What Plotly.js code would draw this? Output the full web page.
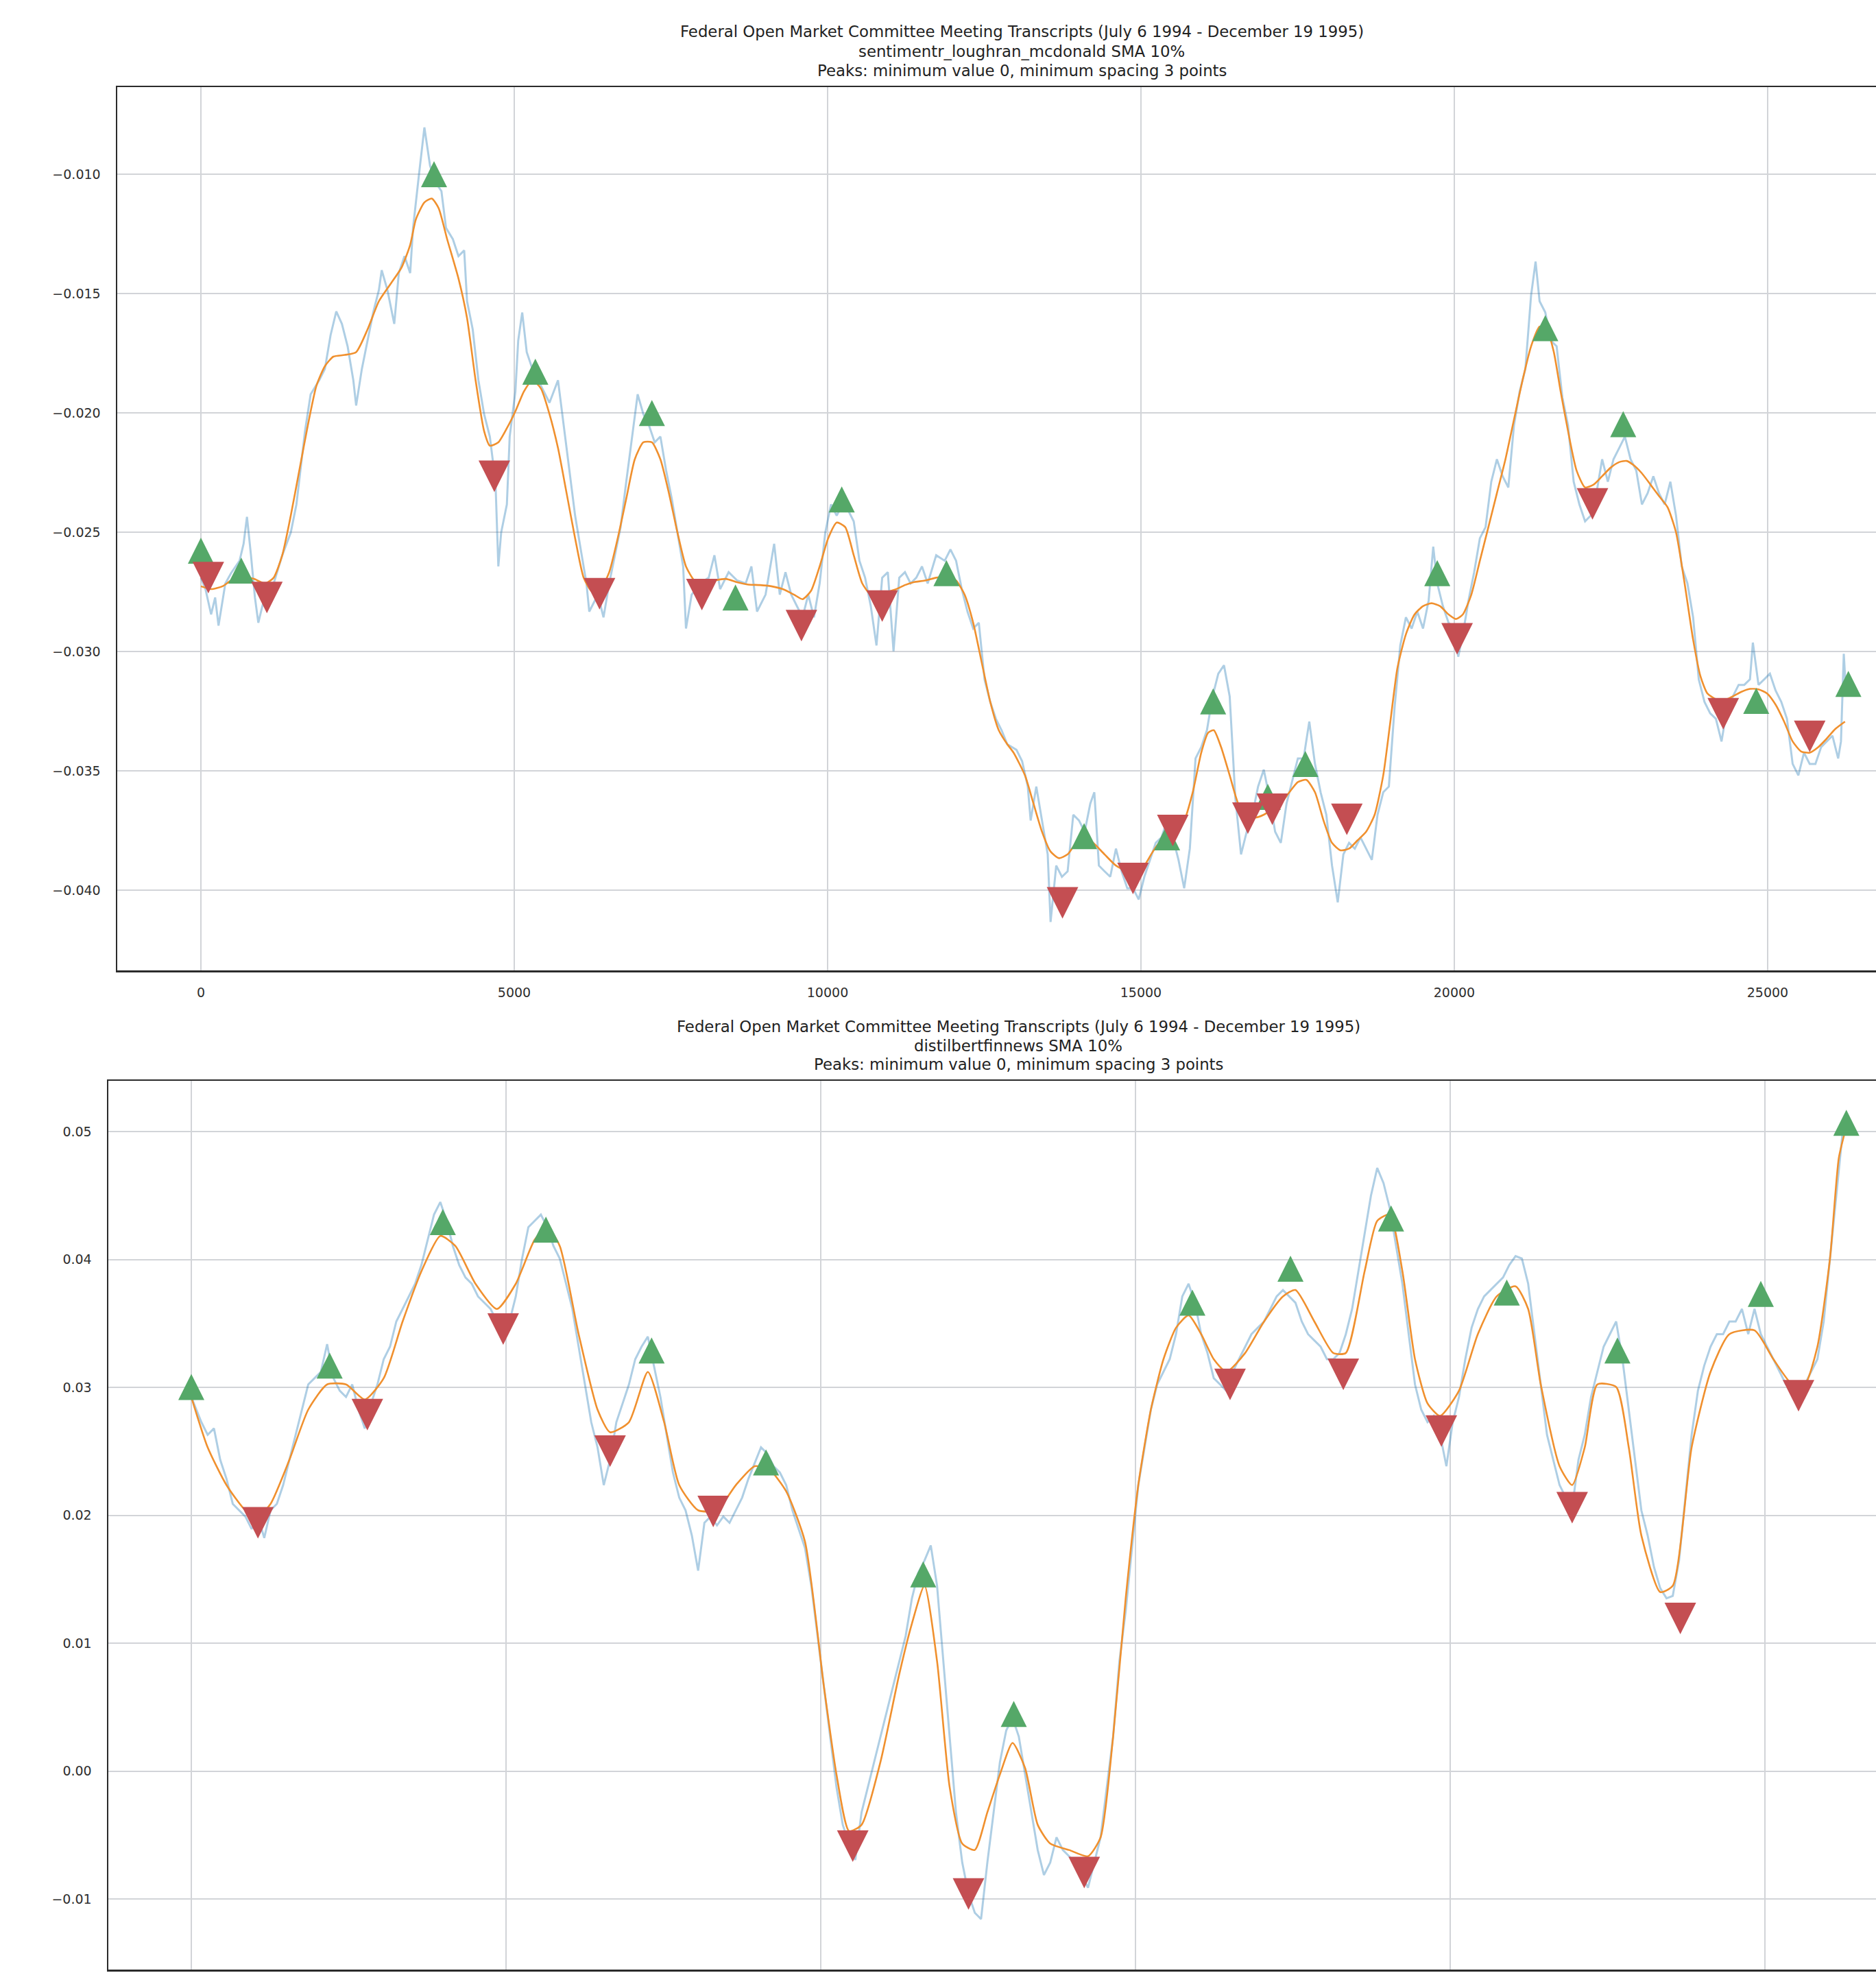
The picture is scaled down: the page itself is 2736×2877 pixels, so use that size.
<!DOCTYPE html>
<html>
<head>
<meta charset="utf-8">
<script src="https://cdn.plot.ly/plotly-3.0.1.min.js"></script>
<style>html,body{margin:0;padding:0;background:#fff;}#chart{width:2736px;height:2877px;}</style>
</head>
<body>
<div id="chart"></div>
<script>
// ---------------- DATA: top chart (sentimentr_loughran_mcdonald) ----------------
const topRawX = [0,73,163,227,281,390,481,617,681,735,799,862,916,1025,1161,1298,1434,1524,1661,1751,1887,1978,2069,2160,2250,2341,2432,2477,2568,2659,2749,2840,2885,2976,3085,3158,3249,3339,3385,3475,3566,3657,3748,3838,3911,4020,4110,4201,4247,4337,4428,4519,4610,4700,4746,4791,4882,4927,5018,5063,5127,5199,5290,5381,5472,5562,5698,5789,5880,5971,6061,6152,6197,6334,6424,6515,6606,6697,6787,6878,6969,7060,7150,7241,7332,7423,7513,7604,7695,7740,7831,7967,8103,8194,8285,8421,8557,8693,8784,8874,9010,9147,9237,9328,9419,9510,9600,9691,9782,9873,9963,10054,10145,10236,10326,10417,10508,10598,10689,10780,10871,10961,11052,11143,11234,11324,11415,11506,11597,11733,11869,11960,12050,12141,12232,12323,12413,12504,12595,12685,12776,12867,13013,13104,13194,13240,13330,13421,13512,13558,13648,13739,13830,13920,14011,14102,14192,14256,14329,14419,14510,14601,14691,14782,14873,14964,15054,15145,15236,15327,15417,15508,15599,15690,15780,15871,15962,16053,16143,16234,16325,16416,16506,16597,16688,16778,16869,16960,17051,17141,17232,17323,17414,17504,17595,17686,17777,17867,17958,18049,18140,18230,18321,18412,18503,18593,18684,18775,18866,18956,19047,19138,19228,19319,19410,19501,19591,19664,19728,19818,19909,20000,20063,20136,20227,20317,20408,20499,20590,20680,20771,20862,20952,21043,21134,21225,21297,21361,21452,21542,21633,21724,21815,21905,21996,22087,22177,22268,22359,22450,22540,22631,22722,22813,22903,22994,23085,23176,23266,23357,23448,23538,23629,23720,23811,23901,23992,24083,24174,24264,24355,24446,24537,24627,24718,24764,24854,24945,25036,25127,25217,25308,25399,25490,25580,25671,25762,25853,25943,26034,26125,26170,26215,26243];
const topRawY = [-0.02690,-0.02738,-0.02844,-0.02773,-0.02891,-0.02714,-0.02671,-0.02619,-0.02548,-0.02435,-0.02596,-0.02773,-0.02879,-0.02761,-0.02714,-0.02596,-0.02501,-0.02383,-0.02076,-0.01922,-0.01863,-0.01816,-0.01674,-0.01575,-0.01627,-0.01721,-0.01863,-0.01969,-0.01816,-0.01697,-0.01579,-0.01485,-0.01402,-0.01485,-0.01627,-0.01414,-0.01343,-0.01414,-0.01225,-0.01012,-0.00804,-0.00965,-0.01036,-0.01071,-0.01225,-0.01272,-0.01343,-0.01319,-0.01532,-0.01650,-0.01863,-0.02005,-0.02099,-0.02288,-0.02643,-0.02501,-0.02383,-0.02099,-0.01910,-0.01697,-0.01579,-0.01745,-0.01816,-0.01863,-0.01910,-0.01957,-0.01863,-0.02052,-0.02241,-0.02430,-0.02572,-0.02714,-0.02832,-0.02761,-0.02856,-0.02714,-0.02596,-0.02478,-0.02288,-0.02099,-0.01922,-0.02005,-0.02052,-0.02123,-0.02099,-0.02241,-0.02359,-0.02501,-0.02643,-0.02903,-0.02761,-0.02714,-0.02690,-0.02596,-0.02738,-0.02667,-0.02702,-0.02714,-0.02643,-0.02832,-0.02761,-0.02548,-0.02761,-0.02667,-0.02761,-0.02809,-0.02856,-0.02761,-0.02856,-0.02714,-0.02501,-0.02383,-0.02430,-0.02383,-0.02407,-0.02454,-0.02619,-0.02690,-0.02809,-0.02974,-0.02690,-0.02667,-0.02998,-0.02690,-0.02667,-0.02714,-0.02690,-0.02643,-0.02714,-0.02596,-0.02619,-0.02572,-0.02619,-0.02738,-0.02832,-0.02903,-0.02879,-0.03116,-0.03210,-0.03281,-0.03329,-0.03388,-0.03411,-0.03459,-0.03565,-0.03707,-0.03565,-0.03707,-0.03849,-0.04132,-0.03896,-0.03943,-0.03920,-0.03683,-0.03707,-0.03754,-0.03636,-0.03589,-0.03896,-0.03920,-0.03943,-0.03825,-0.03920,-0.03991,-0.03991,-0.04038,-0.03943,-0.03872,-0.03801,-0.03778,-0.03707,-0.03778,-0.03872,-0.03991,-0.03825,-0.03447,-0.03400,-0.03329,-0.03187,-0.03092,-0.03057,-0.03187,-0.03612,-0.03849,-0.03754,-0.03683,-0.03565,-0.03494,-0.03612,-0.03754,-0.03801,-0.03636,-0.03541,-0.03447,-0.03447,-0.03293,-0.03470,-0.03589,-0.03683,-0.03896,-0.04050,-0.03849,-0.03801,-0.03825,-0.03778,-0.03825,-0.03872,-0.03683,-0.03589,-0.03565,-0.03234,-0.02974,-0.02856,-0.02903,-0.02832,-0.02903,-0.02785,-0.02560,-0.02714,-0.02809,-0.02879,-0.02903,-0.03021,-0.02927,-0.02785,-0.02667,-0.02525,-0.02478,-0.02288,-0.02194,-0.02265,-0.02312,-0.02052,-0.01910,-0.01816,-0.01508,-0.01366,-0.01532,-0.01579,-0.01697,-0.01721,-0.01934,-0.02052,-0.02288,-0.02383,-0.02454,-0.02430,-0.02336,-0.02194,-0.02288,-0.02194,-0.02147,-0.02099,-0.02194,-0.02241,-0.02383,-0.02336,-0.02265,-0.02336,-0.02383,-0.02288,-0.02430,-0.02643,-0.02714,-0.02856,-0.03116,-0.03210,-0.03258,-0.03281,-0.03376,-0.03234,-0.03187,-0.03139,-0.03139,-0.03116,-0.02962,-0.03139,-0.03116,-0.03092,-0.03163,-0.03210,-0.03281,-0.03470,-0.03518,-0.03423,-0.03470,-0.03470,-0.03400,-0.03376,-0.03352,-0.03447,-0.03376,-0.03009,-0.03139];

const topSmoothX = [0,163,345,481,662,844,1025,1161,1298,1434,1570,1706,1842,1978,2114,2296,2477,2659,2840,3022,3203,3339,3430,3566,3684,3793,3929,4110,4247,4383,4519,4610,4746,4882,5018,5154,5290,5426,5562,5698,5835,5971,6107,6243,6379,6515,6651,6787,6923,7060,7196,7332,7468,7604,7740,7876,8012,8194,8375,8557,8738,8920,9101,9283,9464,9600,9736,9873,10009,10145,10281,10417,10553,10689,10825,10961,11097,11234,11370,11551,11733,11914,12050,12186,12323,12459,12595,12731,12867,12967,13149,13285,13421,13557,13693,13829,13966,14102,14238,14419,14601,14782,14918,15054,15191,15327,15508,15690,15826,15962,16071,16162,16279,16416,16552,16688,16824,16960,17096,17232,17368,17504,17641,17777,17913,18049,18185,18321,18457,18593,18729,18866,18974,19092,19228,19365,19501,19637,19773,19909,20027,20136,20272,20408,20544,20680,20816,20952,21089,21225,21361,21479,21588,21697,21815,21951,22087,22223,22359,22495,22631,22749,22858,22994,23130,23266,23403,23539,23675,23811,23929,24038,24174,24310,24446,24582,24718,24854,24991,25127,25263,25399,25535,25671,25807,25943,26079,26234];
const topSmoothY = [-0.02726,-0.02738,-0.02726,-0.02702,-0.02686,-0.02695,-0.02714,-0.02690,-0.02596,-0.02430,-0.02241,-0.02052,-0.01887,-0.01804,-0.01764,-0.01757,-0.01745,-0.01650,-0.01532,-0.01461,-0.01390,-0.01296,-0.01189,-0.01118,-0.01102,-0.01142,-0.01272,-0.01437,-0.01603,-0.01863,-0.02076,-0.02137,-0.02123,-0.02064,-0.01993,-0.01910,-0.01863,-0.01898,-0.02005,-0.02147,-0.02336,-0.02525,-0.02690,-0.02749,-0.02738,-0.02667,-0.02525,-0.02359,-0.02194,-0.02123,-0.02123,-0.02194,-0.02336,-0.02501,-0.02643,-0.02702,-0.02714,-0.02702,-0.02695,-0.02709,-0.02719,-0.02721,-0.02726,-0.02738,-0.02761,-0.02780,-0.02745,-0.02643,-0.02525,-0.02459,-0.02478,-0.02596,-0.02714,-0.02761,-0.02761,-0.02749,-0.02738,-0.02721,-0.02709,-0.02702,-0.02690,-0.02686,-0.02702,-0.02761,-0.02879,-0.03045,-0.03210,-0.03329,-0.03388,-0.03423,-0.03518,-0.03636,-0.03754,-0.03837,-0.03865,-0.03849,-0.03801,-0.03778,-0.03801,-0.03849,-0.03896,-0.03920,-0.03931,-0.03896,-0.03837,-0.03790,-0.03754,-0.03707,-0.03589,-0.03423,-0.03340,-0.03329,-0.03400,-0.03518,-0.03636,-0.03683,-0.03695,-0.03683,-0.03660,-0.03636,-0.03589,-0.03546,-0.03537,-0.03589,-0.03707,-0.03801,-0.03832,-0.03825,-0.03790,-0.03754,-0.03683,-0.03518,-0.03305,-0.03069,-0.02927,-0.02844,-0.02809,-0.02797,-0.02809,-0.02844,-0.02863,-0.02844,-0.02761,-0.02619,-0.02478,-0.02336,-0.02194,-0.02028,-0.01863,-0.01721,-0.01638,-0.01650,-0.01745,-0.01910,-0.02076,-0.02241,-0.02312,-0.02300,-0.02265,-0.02229,-0.02206,-0.02201,-0.02218,-0.02253,-0.02300,-0.02348,-0.02395,-0.02501,-0.02714,-0.02950,-0.03104,-0.03175,-0.03199,-0.03203,-0.03187,-0.03168,-0.03156,-0.03158,-0.03175,-0.03222,-0.03293,-0.03376,-0.03418,-0.03423,-0.03400,-0.03364,-0.03324,-0.03293];

const topPeakX = [0,644,3720,5336,7196,8530,10226,11896,14093,15417,16152,17024,17623,19728,21452,22695,24818,26288];
const topPeakY = [-0.02577,-0.02660,-0.01000,-0.01827,-0.02000,-0.02773,-0.02362,-0.02671,-0.03773,-0.03778,-0.03208,-0.03608,-0.03470,-0.02671,-0.01645,-0.02047,-0.03206,-0.03135];
const topTroughX = [118,1053,4682,6361,7994,9582,10871,13748,14873,15508,16706,17096,18285,20045,22205,24292,25671];
const topTroughY = [-0.02690,-0.02773,-0.02265,-0.02757,-0.02761,-0.02891,-0.02809,-0.04052,-0.03950,-0.03749,-0.03697,-0.03660,-0.03702,-0.02946,-0.02381,-0.03260,-0.03355];

// ---------------- DATA: bottom chart (distilbertfinnews) ----------------
const botRawX = [0,160,260,360,460,559,659,759,859,959,1059,1159,1259,1359,1459,1558,1658,1758,1858,1958,2058,2158,2258,2358,2458,2557,2657,2757,2857,2957,3057,3157,3257,3357,3457,3556,3656,3756,3856,3956,4056,4156,4256,4356,4456,4555,4655,4755,4855,4955,5055,5155,5255,5355,5455,5554,5654,5754,5854,5954,6054,6154,6254,6354,6454,6553,6653,6753,6853,6953,7053,7153,7253,7353,7453,7552,7652,7752,7852,7952,8052,8152,8252,8352,8452,8551,8651,8751,8851,8951,9051,9151,9251,9351,9451,9550,9650,9750,9850,9950,10050,10150,10250,10350,10450,10549,10649,10749,10849,10949,11049,11149,11249,11349,11449,11548,11648,11748,11848,11948,12048,12148,12248,12348,12448,12547,12647,12747,12847,12947,13047,13147,13247,13347,13447,13546,13646,13746,13846,13946,14046,14146,14246,14346,14446,14545,14645,14745,14845,14945,15045,15145,15245,15345,15445,15544,15644,15744,15844,15944,16044,16144,16244,16344,16444,16543,16643,16743,16843,16943,17043,17143,17243,17343,17443,17542,17642,17742,17842,17942,18042,18142,18242,18342,18442,18541,18641,18741,18841,18941,19041,19141,19241,19341,19441,19540,19640,19740,19840,19940,20040,20140,20240,20340,20440,20539,20639,20739,20839,20939,21039,21139,21239,21339,21439,21538,21638,21738,21838,21938,22038,22138,22238,22338,22438,22537,22637,22737,22837,22937,23037,23137,23237,23337,23437,23536,23636,23736,23836,23936,24036,24136,24236,24336,24436,24535,24635,24735,24835,24935,25035,25135,25235,25335,25435,25534,25634,25734,25834,25934,26034,26134,26234,26294];
const botRawY = [0.02925,0.02728,0.02629,0.02679,0.02433,0.02285,0.02089,0.02039,0.01990,0.01892,0.01990,0.01823,0.02039,0.02089,0.02236,0.02433,0.02629,0.02826,0.03023,0.03072,0.03121,0.03338,0.03072,0.02974,0.02925,0.03023,0.02826,0.02679,0.02875,0.03023,0.03220,0.03318,0.03515,0.03613,0.03711,0.03810,0.03957,0.04154,0.04351,0.04449,0.04302,0.04105,0.03957,0.03859,0.03810,0.03711,0.03662,0.03613,0.03515,0.03367,0.03515,0.03711,0.04007,0.04252,0.04302,0.04351,0.04252,0.04105,0.04007,0.03810,0.03613,0.03318,0.03023,0.02728,0.02531,0.02236,0.02433,0.02728,0.02875,0.03023,0.03220,0.03318,0.03397,0.03170,0.02925,0.02629,0.02334,0.02138,0.02039,0.01843,0.01567,0.01941,0.01990,0.01921,0.01990,0.01941,0.02039,0.02138,0.02285,0.02413,0.02531,0.02482,0.02384,0.02334,0.02236,0.02039,0.01892,0.01744,0.01449,0.01056,0.00662,0.00269,-0.00125,-0.00420,-0.00567,-0.00695,-0.00322,-0.00125,0.00072,0.00269,0.00465,0.00662,0.00859,0.01056,0.01351,0.01548,0.01646,0.01764,0.01449,0.00859,0.00269,-0.00322,-0.00715,-0.00961,-0.01108,-0.01157,-0.00715,-0.00322,0.00072,0.00318,0.00416,0.00269,-0.00026,-0.00322,-0.00617,-0.00813,-0.00715,-0.00518,-0.00617,-0.00666,-0.00715,-0.00813,-0.00912,-0.00715,-0.00518,-0.00125,0.00269,0.00859,0.01252,0.01744,0.02236,0.02531,0.02826,0.03023,0.03121,0.03220,0.03416,0.03711,0.03810,0.03662,0.03416,0.03269,0.03072,0.03023,0.02974,0.03121,0.03220,0.03318,0.03416,0.03466,0.03515,0.03613,0.03711,0.03761,0.03711,0.03662,0.03515,0.03416,0.03367,0.03318,0.03220,0.03220,0.03269,0.03416,0.03613,0.03908,0.04203,0.04498,0.04715,0.04597,0.04400,0.04105,0.03810,0.03416,0.03023,0.02826,0.02728,0.02777,0.02629,0.02384,0.02728,0.02925,0.03220,0.03466,0.03613,0.03711,0.03761,0.03810,0.03859,0.03957,0.04026,0.04007,0.03810,0.03416,0.03023,0.02629,0.02433,0.02236,0.02138,0.02059,0.02433,0.02629,0.02925,0.03121,0.03318,0.03416,0.03515,0.03220,0.02826,0.02433,0.02039,0.01843,0.01597,0.01430,0.01351,0.01370,0.01646,0.02138,0.02629,0.02974,0.03170,0.03318,0.03416,0.03416,0.03515,0.03515,0.03613,0.03416,0.03613,0.03416,0.03318,0.03220,0.03121,0.03023,0.03023,0.02925,0.03023,0.03121,0.03220,0.03515,0.04007,0.04498,0.04990,0.05059];

const botSmoothX = [0,260,559,859,1059,1259,1558,1858,2158,2458,2757,3057,3357,3656,3956,4196,4515,4855,5155,5455,5654,5854,6154,6454,6653,6953,7253,7512,7752,8052,8352,8651,8951,9191,9451,9750,10050,10250,10450,10649,10949,11249,11449,11648,11848,12048,12248,12448,12647,12847,13047,13247,13447,13646,13946,14246,14446,14645,14845,15045,15245,15445,15644,15844,16044,16244,16444,16743,17043,17343,17542,17842,18142,18342,18641,18841,19041,19241,19441,19640,19840,20140,20439,20739,21039,21239,21439,21738,21938,22138,22338,22637,22837,23037,23337,23536,23836,24136,24435,24835,25135,25435,25634,25834,26034,26174,26294];
const botSmoothY = [0.02925,0.02531,0.02236,0.02039,0.01990,0.02089,0.02433,0.02826,0.03023,0.03023,0.02905,0.03072,0.03515,0.03908,0.04184,0.04105,0.03810,0.03613,0.03810,0.04154,0.04252,0.04105,0.03416,0.02826,0.02649,0.02728,0.03121,0.02728,0.02236,0.02039,0.02039,0.02236,0.02384,0.02354,0.02187,0.01793,0.00662,-0.00026,-0.00469,-0.00420,0.00072,0.00761,0.01154,0.01449,0.00859,-0.00125,-0.00567,-0.00617,-0.00322,-0.00026,0.00220,0.00023,-0.00420,-0.00567,-0.00617,-0.00666,-0.00518,0.00269,0.01351,0.02236,0.02826,0.03220,0.03466,0.03564,0.03416,0.03220,0.03121,0.03269,0.03515,0.03711,0.03761,0.03515,0.03269,0.03269,0.03908,0.04302,0.04351,0.03908,0.03220,0.02875,0.02777,0.02974,0.03416,0.03711,0.03790,0.03613,0.03023,0.02384,0.02236,0.02531,0.03023,0.03003,0.02531,0.01843,0.01400,0.01449,0.02531,0.03121,0.03416,0.03446,0.03220,0.03023,0.03023,0.03318,0.04007,0.04793,0.05039];

const botPeakX = [0,2198,3996,5634,7313,9131,11628,13067,15904,17463,19061,20899,22657,24935,26294];
const botPeakY = [0.03003,0.03170,0.04292,0.04233,0.03289,0.02413,0.01538,0.00446,0.03662,0.03928,0.04321,0.03741,0.03289,0.03731,0.05069];
const botTroughX = [1059,2797,4955,6653,8292,10509,12348,14186,16503,18302,19860,21938,23656,25534];
const botTroughY = [0.01941,0.02787,0.03456,0.02502,0.02030,-0.00587,-0.00961,-0.00793,0.03023,0.03102,0.02659,0.02059,0.01193,0.02934];

// ---------------- TEXT ----------------
const titleMain = 'Federal Open Market Committee Meeting Transcripts (July 6 1994 - December 19 1995)';
const topSubtitle = 'sentimentr_loughran_mcdonald SMA 10%';
const botSubtitle = 'distilbertfinnews SMA 10%';
const peaksLine = 'Peaks: minimum value 0, minimum spacing 3 points';

// ---------------- STYLE ----------------
const W = 2736, H = 2877;
const rawColor = 'rgba(31,119,180,0.36)';
const smoothColor = '#f0902e';
const peakColor = '#55a868';
const troughColor = '#c44e52';
const textColor = '#222222';
const FONT = 'DejaVu Sans, Liberation Sans, sans-serif';
const peakSize = 38, troughSize = 46;

function rawTrace(x, y, xa, ya) {
  return {x, y, xaxis: xa, yaxis: ya, type: 'scatter', mode: 'lines',
          line: {color: rawColor, width: 3}, hoverinfo: 'skip'};
}
function smoothTrace(x, y, xa, ya) {
  return {x, y, xaxis: xa, yaxis: ya, type: 'scatter', mode: 'lines',
          line: {color: smoothColor, width: 2.6, shape: 'spline', smoothing: 0.6}, hoverinfo: 'skip'};
}
function peakTrace(x, y, xa, ya) {
  return {x, y, xaxis: xa, yaxis: ya, type: 'scatter', mode: 'markers',
          marker: {symbol: 'arrow-down', angle: 180, standoff: peakSize / 2, size: peakSize,
                   color: peakColor, line: {width: 0}}, hoverinfo: 'skip'};
}
function troughTrace(x, y, xa, ya) {
  return {x, y, xaxis: xa, yaxis: ya, type: 'scatter', mode: 'markers',
          marker: {symbol: 'arrow-down', angle: 0, standoff: troughSize / 2, size: troughSize,
                   color: troughColor, line: {width: 0}}, hoverinfo: 'skip'};
}

const data = [
  rawTrace(topRawX, topRawY, 'x', 'y'),
  smoothTrace(topSmoothX, topSmoothY, 'x', 'y'),
  peakTrace(topPeakX, topPeakY, 'x', 'y'),
  troughTrace(topTroughX, topTroughY, 'x', 'y'),
  rawTrace(botRawX, botRawY, 'x2', 'y2'),
  smoothTrace(botSmoothX, botSmoothY, 'x2', 'y2'),
  peakTrace(botPeakX, botPeakY, 'x2', 'y2'),
  troughTrace(botTroughX, botTroughY, 'x2', 'y2')
];

const gridColor = '#d2d4d8';
const spineColor = '#2b2b2b';
const tickFont = {family: FONT, size: 19, color: '#2e2e2e'};

function xAxis(domainLeftPx, range, anchor, showLabels) {
  return {domain: [domainLeftPx / W, 1], range: range, anchor: anchor,
          tick0: 0, dtick: 5000, tickformat: 'd', showgrid: true, gridcolor: gridColor, gridwidth: 2,
          zeroline: false, showline: true, linecolor: spineColor, linewidth: 2.5, mirror: true,
          ticks: '', showticklabels: showLabels, tickfont: tickFont, ticklabelstandoff: 14,
          automargin: false, fixedrange: true};
}
function yAxis(topPx, bottomPx, range, dtick, fmt, anchor) {
  return {domain: [(H - bottomPx) / H, (H - topPx) / H], range: range, anchor: anchor,
          tick0: 0, dtick: dtick, tickformat: fmt, showgrid: true, gridcolor: gridColor, gridwidth: 2,
          zeroline: false, showline: true, linecolor: spineColor, linewidth: 2.5, mirror: false,
          ticks: '', tickfont: tickFont, ticklabelstandoff: 18, automargin: false, fixedrange: true};
}

function titleAnn(text, xPx, yPx) {
  return {text: text, xref: 'paper', yref: 'paper', x: xPx / W, y: 1 - yPx / H,
          xanchor: 'center', yanchor: 'middle', showarrow: false,
          font: {family: FONT, size: 22.8, color: textColor}};
}

const layout = {
  width: W, height: H,
  margin: {l: 0, r: 0, t: 0, b: 0, pad: 0},
  paper_bgcolor: '#ffffff', plot_bgcolor: '#ffffff',
  showlegend: false,
  xaxis: xAxis(171, [-1335, 26729], 'y', true),
  yaxis: yAxis(127, 1415, [-0.04335, -0.00635], 0.005, '.3f', 'x'),
  xaxis2: xAxis(158, [-1318, 26765], 'y2', false),
  yaxis2: yAxis(1576, 2872, [-0.01552, 0.05397], 0.01, '.2f', 'x2'),
  annotations: [
    titleAnn(titleMain, 1490, 46),
    titleAnn(topSubtitle, 1490, 75),
    titleAnn(peaksLine, 1490, 103),
    titleAnn(titleMain, 1485, 1497),
    titleAnn(botSubtitle, 1485, 1525),
    titleAnn(peaksLine, 1485, 1552)
  ]
};

Plotly.newPlot('chart', data, layout, {staticPlot: true, displayModeBar: false});
</script>
</body>
</html>
